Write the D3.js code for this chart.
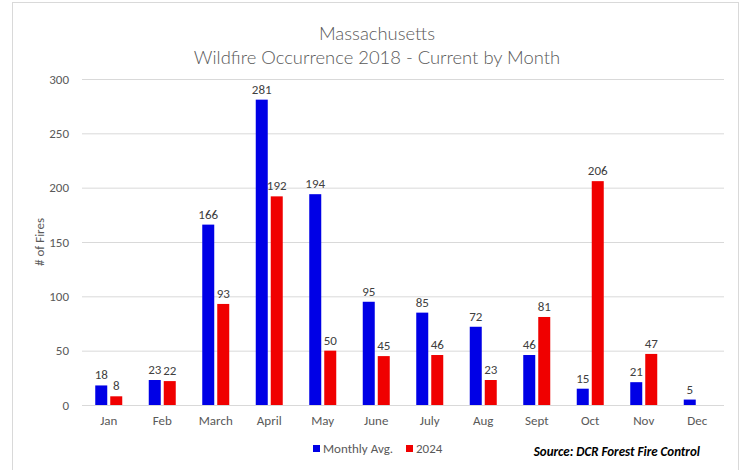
<!DOCTYPE html>
<html>
<head>
<meta charset="utf-8">
<script src="https://cdn.jsdelivr.net/npm/d3@7"></script>
<style>
  body { margin: 0; background: #fff; }
  text { font-family: Calibri, Carlito, "Liberation Sans", "Open Sans", sans-serif; }
</style>
</head>
<body>
<svg id="chart" width="742" height="470"></svg>
<script>
// monthly wildfire counts
const months = ["Jan","Feb","March","April","May","June","July","Aug","Sept","Oct","Nov","Dec"]
const monthlyAvg = [18, 23, 166, 281, 194, 95, 85, 72, 46, 15, 21, 5]
const fires2024 = [8, 22, 93, 192, 50, 45, 46, 23, 81, 206, 47, null]
const yTicks = [0, 50, 100, 150, 200, 250, 300]
const seriesNames = ["Monthly Avg.", "2024"]
const seriesColors = ["#0000e6", "#f00000"]

const svg = d3.select("#chart")
const M = {left: 82, right: 724, top: 79, bottom: 405}

// frame
svg.append("rect")
    .attr("x", 12.5).attr("y", 2.5)
    .attr("width", 726).attr("height", 480)
    .style("fill", "none")
    .style("stroke", "#d9d9d9")

// title (light weight like the original)
const titleFont = "'Lato', Carlito, 'Liberation Sans', sans-serif"
svg.append("text")
    .attr("x", 377).attr("y", 40)
    .style("text-anchor", "middle")
    .style("font-size", "18.4px")
    .style("font-weight", 300)
    .style("font-family", titleFont)
    .style("fill", "#595959")
    .text("Massachusetts")
svg.append("text")
    .attr("x", 377).attr("y", 64)
    .style("text-anchor", "middle")
    .style("font-size", "18.4px")
    .style("font-weight", 300)
    .style("font-family", titleFont)
    .style("fill", "#595959")
    .text("Wildfire Occurrence 2018 - Current by Month")

let x = d3.scaleBand()
    .range([M.left, M.right])
    .domain(months)
    .padding(0)
let y = d3.scaleLinear()
    .domain([0, 300])
    .range([M.bottom, M.top])

// gridlines
let yAxis = svg.append("g")
    .attr("transform", "translate(" + M.left + ",0)")
    .call(d3.axisLeft(y).tickValues(yTicks).tickSize(-(M.right - M.left)).tickPadding(13))
yAxis.select(".domain").remove()
yAxis.selectAll("line").style("stroke", "#d9d9d9")
yAxis.selectAll("text")
    .style("font-size", "13px")
    .style("fill", "#595959")
    .style("font-family", "Calibri, Carlito, 'Liberation Sans', sans-serif")

let xAxis = svg.append("g")
    .attr("transform", "translate(0," + M.bottom + ")")
    .call(d3.axisBottom(x).tickSize(0).tickPadding(11))
xAxis.select(".domain").remove()
xAxis.selectAll("text")
    .style("font-size", "13px")
    .style("fill", "#595959")
    .style("font-family", "Calibri, Carlito, 'Liberation Sans', sans-serif")

// y label
svg.append("text")
    .attr("transform", "translate(44," + ((M.top + M.bottom) / 2) + ") rotate(-90)")
    .style("text-anchor", "middle")
    .style("font-size", "13px")
    .style("fill", "#595959")
    .text("# of Fires")

// bars
const barW = 12, gap = 3
const series = [monthlyAvg, fires2024]
series.forEach((vals, si) => {
    let data = months.map((m, i) => ({m: m, v: vals[i]})).filter(d => d.v != null)
    let off = si === 0 ? -(barW + gap / 2) : gap / 2
    svg.append("g").selectAll("rect")
        .data(data)
        .join("rect")
        .attr("x", d => x(d.m) + x.bandwidth() / 2 + off)
        .attr("y", d => y(d.v))
        .attr("width", barW)
        .attr("height", d => y(0) - y(d.v))
        .style("fill", seriesColors[si])
    svg.append("g").selectAll("text")
        .data(data)
        .join("text")
        .attr("x", d => x(d.m) + x.bandwidth() / 2 + off + barW / 2)
        .attr("y", d => y(d.v) - 6)
        .style("text-anchor", "middle")
        .style("font-size", "13px")
        .style("fill", "#404040")
        .text(d => d.v)
})

// legend
const legX = [313, 406]
seriesNames.forEach((n, i) => {
    svg.append("rect")
        .attr("x", legX[i]).attr("y", 445)
        .attr("width", 7).attr("height", 7)
        .style("fill", seriesColors[i])
    svg.append("text")
        .attr("x", legX[i] + 10).attr("y", 453)
        .style("font-size", "13px")
        .style("fill", "#595959")
        .text(n)
})

svg.append("text")
    .attr("x", 700).attr("y", 456)
    .style("text-anchor", "end")
    .style("font-size", "13px")
    .style("font-weight", "bold")
    .style("font-style", "italic")
    .style("fill", "#000")
    .text("Source: DCR Forest Fire Control")
</script>
</body>
</html>
